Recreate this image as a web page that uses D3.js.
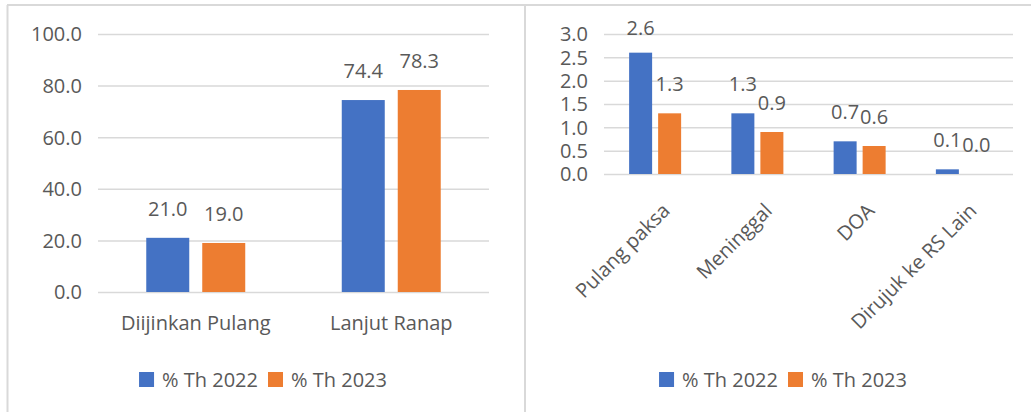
<!DOCTYPE html>
<html>
<head>
<meta charset="utf-8">
<script src="https://cdn.jsdelivr.net/npm/d3@7"></script>
<style>
  body { margin: 0; background: #fff; }
  svg text { font-family: "Open Sans", sans-serif; fill: #595959; }
</style>
</head>
<body>
<svg width="1031" height="412"></svg>
<script>
// data
var seriesNames = ["% Th 2022", "% Th 2023"];
var seriesColors = ["#4472c4", "#ed7d31"];

var leftCategories = ["Diijinkan Pulang", "Lanjut Ranap"];
var left2022 = [21.0, 74.4];
var left2023 = [19.0, 78.3];
var leftTicks = [0, 20, 40, 60, 80, 100];

var rightCategories = ["Pulang paksa", "Meninggal", "DOA", "Dirujuk ke RS Lain"];
var right2022 = [2.6, 1.3, 0.7, 0.1];
var right2023 = [1.3, 0.9, 0.6, 0.0];
var rightTicks = [0, 0.5, 1.0, 1.5, 2.0, 2.5, 3.0];

var svg = d3.select("svg");
var fmt = d3.format(".1f");

// panel frames
var frame = svg.append("g").attr("stroke", "#d9d9d9").attr("stroke-width", 2);
frame.append("line").attr("x1", 7).attr("x2", 1031).attr("y1", 5).attr("y2", 5);
frame.append("line").attr("x1", 7.5).attr("x2", 7.5).attr("y1", 5).attr("y2", 412);
frame.append("line").attr("x1", 525).attr("x2", 525).attr("y1", 5).attr("y2", 412);

function drawPanel(opt) {
    var cats = opt.categories;
    var rows = cats.map(function (c, i) {
        return { cat: c, values: [opt.s2022[i], opt.s2023[i]] };
    });

    var x0 = d3.scaleBand().domain(cats).range([opt.left, opt.right]);
    var x1 = d3.scaleBand().domain([0, 1]).range([0, x0.bandwidth()])
        .paddingInner(opt.innerPad).paddingOuter(opt.outerPad);
    var y = d3.scaleLinear().domain([0, d3.max(opt.ticks)]).range([opt.bottom, opt.top]);

    var g = svg.append("g");

    // y axis + gridlines
    var ya = g.append("g")
        .attr("transform", "translate(" + opt.left + ",0)")
        .call(d3.axisLeft(y).tickValues(opt.ticks).tickFormat(fmt)
            .tickSize(-(opt.right - opt.left)).tickPadding(16));
    ya.select(".domain").remove();
    ya.selectAll("line").attr("stroke", "#d9d9d9").attr("stroke-width", 1.5);
    ya.selectAll("text").style("font-size", "20px").attr("dy", "0.34em");

    // bars
    var grp = g.selectAll(".grp").data(rows).enter().append("g")
        .attr("transform", function (d) { return "translate(" + x0(d.cat) + ",0)"; });

    grp.selectAll("rect").data(function (d) { return d.values; }).enter().append("rect")
        .attr("x", function (d, i) { return x1(i); })
        .attr("width", x1.bandwidth())
        .attr("y", function (d) { return y(d); })
        .attr("height", function (d) { return y(0) - y(d); })
        .attr("fill", function (d, i) { return seriesColors[i]; });

    grp.selectAll(".val").data(function (d) { return d.values; }).enter().append("text")
        .attr("class", "val")
        .attr("text-anchor", "middle")
        .attr("x", function (d, i) { return x1(i) + x1.bandwidth() / 2; })
        .attr("y", function (d) { return Math.max(y(d) - 22, opt.top + 1); })
        .style("font-size", "20px")
        .text(function (d) { return fmt(d); });

    // category axis
    var xa = g.append("g")
        .attr("transform", "translate(0," + opt.bottom + ")")
        .call(d3.axisBottom(x0).tickSize(0));
    xa.select(".domain").remove();
    xa.selectAll("text").style("font-size", "20px");
    if (opt.rotate) {
        xa.selectAll("text")
            .attr("text-anchor", "end")
            .attr("x", 0).attr("y", 0).attr("dy", 0)
            .attr("transform", "translate(16,38) rotate(-45)");
    } else {
        xa.selectAll("text").attr("y", 38).attr("dy", 0);
    }

    // legend
    var lg = svg.append("g").attr("transform", "translate(0,387)");
    var xpos = 0;
    var items = seriesNames.map(function (name, i) {
        var it = lg.append("g");
        it.append("rect").attr("x", 0).attr("y", -15).attr("width", 15).attr("height", 15)
            .attr("fill", seriesColors[i]);
        var t = it.append("text").attr("x", 23).attr("y", 0).style("font-size", "20px").text(name);
        var w = 23 + t.node().getComputedTextLength();
        it.attr("transform", "translate(" + xpos + ",0)");
        xpos += w + 10;
        return it;
    });
    var total = xpos - 10;
    lg.attr("transform", "translate(" + (opt.legendCenter - total / 2) + ",387)");
}

drawPanel({
    categories: leftCategories, s2022: left2022, s2023: left2023, ticks: leftTicks,
    left: 98, right: 489, top: 34, bottom: 292,
    innerPad: 0.232, outerPad: 0.862, rotate: false, legendCenter: 263
});

drawPanel({
    categories: rightCategories, s2022: right2022, s2023: right2023, ticks: rightTicks,
    left: 604, right: 1013, top: 34, bottom: 174,
    innerPad: 0.207, outerPad: 0.866, rotate: true, legendCenter: 783
});
</script>
</body>
</html>
